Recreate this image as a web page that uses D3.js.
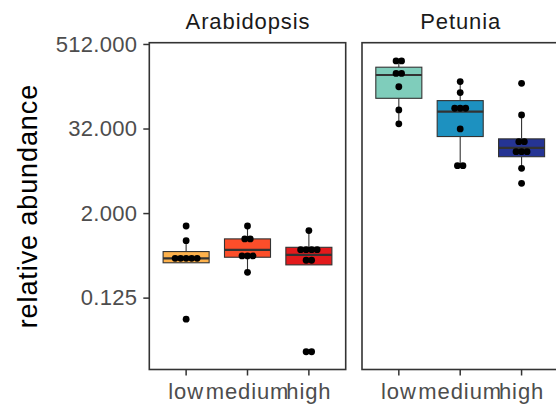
<!DOCTYPE html>
<html>
<head>
<meta charset="utf-8">
<script src="https://cdn.jsdelivr.net/npm/d3@7"></script>
<style>
  html, body { margin: 0; padding: 0; background: #ffffff; }
  svg { display: block; font-family: "Liberation Sans", Arial, Helvetica, sans-serif; }
</style>
</head>
<body>
<svg id="chart" width="556" height="408"></svg>
<script>
// Facets and treatment levels
const species = ["Arabidopsis", "Petunia"];
const levels = ["low", "medium", "high"];

// Fill colours per facet, one per level
const arabidopsisColors = ["#FEB24C", "#FC4E2A", "#E31A1C"];
const petuniaColors = ["#7FCDBB", "#1D91C0", "#253494"];

// Individual measurements (relative abundance), per level
const arabidopsisLow = [1.31, 0.81, 0.454, 0.454, 0.454, 0.454, 0.454, 0.0617];
const arabidopsisMedium = [1.31, 0.858, 0.858, 0.49, 0.49, 0.49, 0.287];
const arabidopsisHigh = [1.125, 0.603, 0.603, 0.603, 0.603, 0.426, 0.426, 0.0212, 0.0212];
const petuniaLow = [294, 294, 195, 195, 126, 58.9, 37.3];
const petuniaMedium = [149, 104, 62.2, 62.2, 62.2, 31.6, 9.45, 9.45];
const petuniaHigh = [141, 49.9, 20.8, 20.8, 15.0, 15.0, 15.0, 8.69, 5.31];

// Box summaries per facet, in level order: lower whisker, Q1, median, Q3, upper whisker
const arabidopsisWhiskerLow = [0.392, 0.287, 0.366];
const arabidopsisQ1 = [0.392, 0.47, 0.366];
const arabidopsisMedian = [0.454, 0.60, 0.507];
const arabidopsisQ3 = [0.566, 0.858, 0.651];
const arabidopsisWhiskerHigh = [0.81, 1.31, 1.125];

const petuniaWhiskerLow = [37.3, 9.45, 8.69];
const petuniaQ1 = [86.2, 24.6, 12.7];
const petuniaMedian = [185, 55.7, 17.0];
const petuniaQ3 = [239, 79.9, 22.8];
const petuniaWhiskerHigh = [294, 149, 49.9];

// Log2 axis: limits and tick labels
const yLimits = [Math.pow(2, -6.40), Math.pow(2, 9.06)];
const yTicks = [0.125, 2, 32, 512];
const yTickLabels = ["0.125", "2.000", "32.000", "512.000"];

const yTitle = "relative abundance";

// Assemble facet records for drawing
const facets = [
  {
    name: species[0], colors: arabidopsisColors,
    values: [arabidopsisLow, arabidopsisMedium, arabidopsisHigh],
    lo: arabidopsisWhiskerLow, q1: arabidopsisQ1, med: arabidopsisMedian,
    q3: arabidopsisQ3, hi: arabidopsisWhiskerHigh
  },
  {
    name: species[1], colors: petuniaColors,
    values: [petuniaLow, petuniaMedium, petuniaHigh],
    lo: petuniaWhiskerLow, q1: petuniaQ1, med: petuniaMedian,
    q3: petuniaQ3, hi: petuniaWhiskerHigh
  }
];

const svg = d3.select("#chart");

const panelTop = 42.7, panelBottom = 369.5;
const panelWidth = 196.4, panelGap = 16.3, firstLeft = 149.3;

const y = d3.scaleLog().base(2).domain(yLimits).range([panelBottom, panelTop]);

const axisGrey = "#4D4D4D";
const lineDark = "#333333";
const tickFont = 22, tickSpacing = 0.9, yTickSpacing = 0.3;

// y axis title
svg.append("text")
  .attr("transform", `translate(37,${(panelTop + panelBottom) / 2}) rotate(-90)`)
  .attr("text-anchor", "middle")
  .attr("font-size", 27)
  .attr("letter-spacing", 0.9)
  .attr("fill", "#000")
  .text(yTitle);

// y axis ticks and labels (left facet only)
const yAxisG = svg.append("g").attr("transform", `translate(${firstLeft},0)`);
yAxisG.call(d3.axisLeft(y).tickValues(yTicks)
  .tickFormat((d, i) => yTickLabels[i]).tickSize(6).tickPadding(6));
yAxisG.select(".domain").remove();
yAxisG.selectAll(".tick line").attr("stroke", lineDark).attr("stroke-width", 1.5);
yAxisG.selectAll(".tick text")
  .attr("font-size", tickFont)
  .attr("letter-spacing", yTickSpacing)
  .attr("fill", axisGrey)
  .attr("font-family", null);

facets.forEach((f, fi) => {
  const left = firstLeft + fi * (panelWidth + panelGap);
  const right = left + panelWidth;
  const x = d3.scaleBand().domain(levels).range([left, right])
    .paddingInner(0).paddingOuter(0.1);
  const step = x.step();
  const boxW = step * 0.75;
  const cx = d => x(d) + x.bandwidth() / 2;

  const g = svg.append("g");

  // strip label
  svg.append("text")
    .attr("x", (left + right) / 2 + 0.5)
    .attr("y", 28.5)
    .attr("text-anchor", "middle")
    .attr("font-size", tickFont)
    .attr("letter-spacing", tickSpacing)
    .attr("fill", "#1A1A1A")
    .text(f.name);

  levels.forEach((lv, i) => {
    const c = cx(lv);
    // whiskers
    g.append("line").attr("x1", c).attr("x2", c)
      .attr("y1", y(f.q3[i])).attr("y2", y(f.hi[i]))
      .attr("stroke", lineDark).attr("stroke-width", 1.1);
    g.append("line").attr("x1", c).attr("x2", c)
      .attr("y1", y(f.q1[i])).attr("y2", y(f.lo[i]))
      .attr("stroke", lineDark).attr("stroke-width", 1.1);
    // box
    g.append("rect")
      .attr("x", c - boxW / 2).attr("width", boxW)
      .attr("y", y(f.q3[i])).attr("height", y(f.q1[i]) - y(f.q3[i]))
      .attr("fill", f.colors[i])
      .attr("stroke", lineDark).attr("stroke-width", 1.1);
    // median
    g.append("line")
      .attr("x1", c - boxW / 2).attr("x2", c + boxW / 2)
      .attr("y1", y(f.med[i])).attr("y2", y(f.med[i]))
      .attr("stroke", lineDark).attr("stroke-width", 2.2);

    // points: equal values spread side by side
    const counts = d3.rollup(f.values[i], v => v.length, d => d);
    const seen = new Map();
    const pts = f.values[i].map(v => {
      const k = seen.get(v) || 0;
      seen.set(v, k + 1);
      const n = counts.get(v);
      return { v, dx: (k - (n - 1) / 2) * 5.5 };
    });
    g.selectAll(null).data(pts).join("circle")
      .attr("cx", d => c + d.dx)
      .attr("cy", d => y(d.v))
      .attr("r", 3.4)
      .attr("fill", "#000");
  });

  // panel border
  svg.append("rect")
    .attr("x", left).attr("y", panelTop)
    .attr("width", panelWidth).attr("height", panelBottom - panelTop)
    .attr("fill", "none").attr("stroke", lineDark).attr("stroke-width", 1.6);

  // x axis
  const xAxisG = svg.append("g").attr("transform", `translate(0,${panelBottom})`);
  xAxisG.call(d3.axisBottom(x).tickSize(6).tickPadding(8));
  xAxisG.select(".domain").remove();
  xAxisG.selectAll(".tick line").attr("stroke", lineDark).attr("stroke-width", 1.5);
  xAxisG.selectAll(".tick text")
    .attr("font-size", tickFont)
    .attr("letter-spacing", tickSpacing)
    .attr("fill", axisGrey)
    .attr("font-family", null);
});
</script>
</body>
</html>
